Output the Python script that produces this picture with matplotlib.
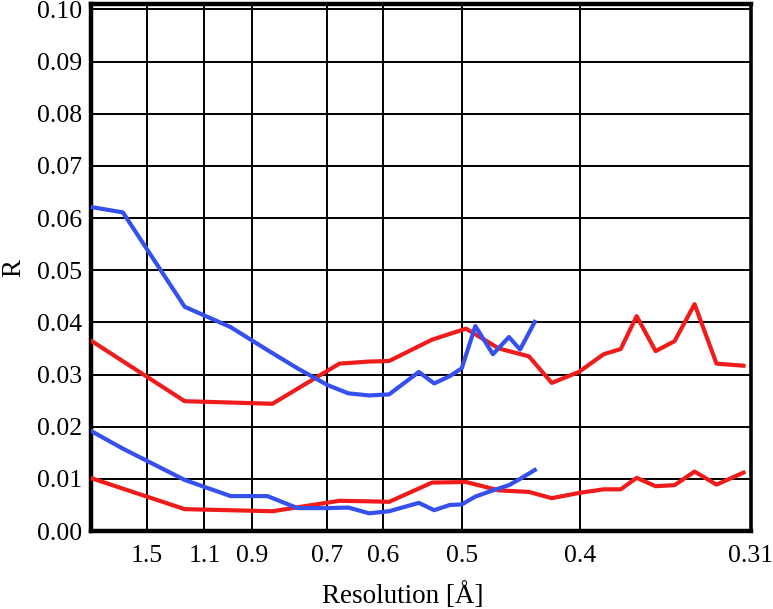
import matplotlib
matplotlib.use("Agg")
import matplotlib.pyplot as plt
import numpy as np

# resolution shells (Angstrom) and R values
RES_RED = [2.312, 1.211, 0.835, 0.675, 0.622, 0.591, 0.5335, 0.4955, 0.4635, 0.4377,
           0.4199, 0.4006, 0.3844, 0.374, 0.3648, 0.3544, 0.3446, 0.3348, 0.3247, 0.3131]
RED_UPPER = [0.0364, 0.0249, 0.0244, 0.0321, 0.0325, 0.0326, 0.0367, 0.0388, 0.0350, 0.0335,
             0.0284, 0.0305, 0.0339, 0.0349, 0.0412, 0.0345, 0.0364, 0.0435, 0.0321, 0.0317]
RED_LOWER = [0.0101, 0.0042, 0.0038, 0.0058, 0.0057, 0.0056, 0.0093, 0.0094, 0.0078, 0.0075,
             0.0063, 0.0073, 0.0080, 0.0080, 0.0102, 0.0086, 0.0088, 0.0114, 0.0089, 0.0112]

RES_BLUE = [2.312, 1.774, 1.211, 0.980, 0.850, 0.767, 0.699, 0.658, 0.622, 0.591,
            0.550, 0.531, 0.513, 0.500, 0.486, 0.469, 0.4545, 0.445, 0.433]
BLUE_UPPER = [0.0621, 0.0611, 0.0430, 0.0391, 0.0347, 0.0312, 0.0280, 0.0264, 0.0260, 0.0262,
              0.0305, 0.0283, 0.0297, 0.0312, 0.0393, 0.0339, 0.0372, 0.0348, 0.0401]
BLUE_LOWER = [0.0191, 0.0158, 0.0098, 0.0067, 0.0067, 0.0044, 0.0044, 0.0045, 0.0034, 0.0038,
              0.0054, 0.0040, 0.0050, 0.0051, 0.0066, 0.0078, 0.0088, 0.0100, 0.0117]

XTICK_RES = [1.5, 1.1, 0.9, 0.7, 0.6, 0.5, 0.4, 0.31]
XTICK_LABELS = ["1.5", "1.1", "0.9", "0.7", "0.6", "0.5", "0.4", "0.31"]
YTICKS = [0.00, 0.01, 0.02, 0.03, 0.04, 0.05, 0.06, 0.07, 0.08, 0.09, 0.10]

RED = "#f01c1c"
BLUE = "#3550ef"

plt.rcParams["font.family"] = ["Liberation Serif", "DejaVu Serif"]

fig = plt.figure(figsize=(7.73, 6.09), dpi=100)
ax = fig.add_axes([0.1173, 0.128, 0.9715 - 0.1173, 0.993 - 0.128])

inv = lambda r: 1.0 / np.asarray(r)

ax.plot(inv(RES_RED), RED_UPPER, color=RED, lw=3.0, zorder=3)
ax.plot(inv(RES_RED), RED_LOWER, color=RED, lw=3.0, zorder=3)
ax.plot(inv(RES_BLUE), BLUE_UPPER, color=BLUE, lw=3.0, zorder=4)
ax.plot(inv(RES_BLUE), BLUE_LOWER, color=BLUE, lw=3.0, zorder=4)

ax.set_xlim(1 / 2.34, 1 / 0.31)
ax.set_ylim(0, 0.101)
ax.set_xticks(inv(XTICK_RES))
ax.set_xticklabels(XTICK_LABELS)
ax.set_yticks(YTICKS)
ax.set_yticklabels([f"{v:.2f}" for v in YTICKS])
ax.tick_params(axis="both", length=0, labelsize=18.5)
ax.tick_params(axis="x", pad=10)
ax.tick_params(axis="y", pad=6)
ax.grid(True, color="black", lw=1.4)
ax.set_axisbelow(True)
for side in ["left", "bottom", "top"]:
    ax.spines[side].set_linewidth(3.2)
ax.spines["right"].set_linewidth(2.6)

ax.set_xlabel("Resolution [Å]", fontsize=19.5, labelpad=11, x=0.473)
ax.set_ylabel("R", fontsize=19.5, labelpad=8)

fig.savefig("out.png", dpi=100)
